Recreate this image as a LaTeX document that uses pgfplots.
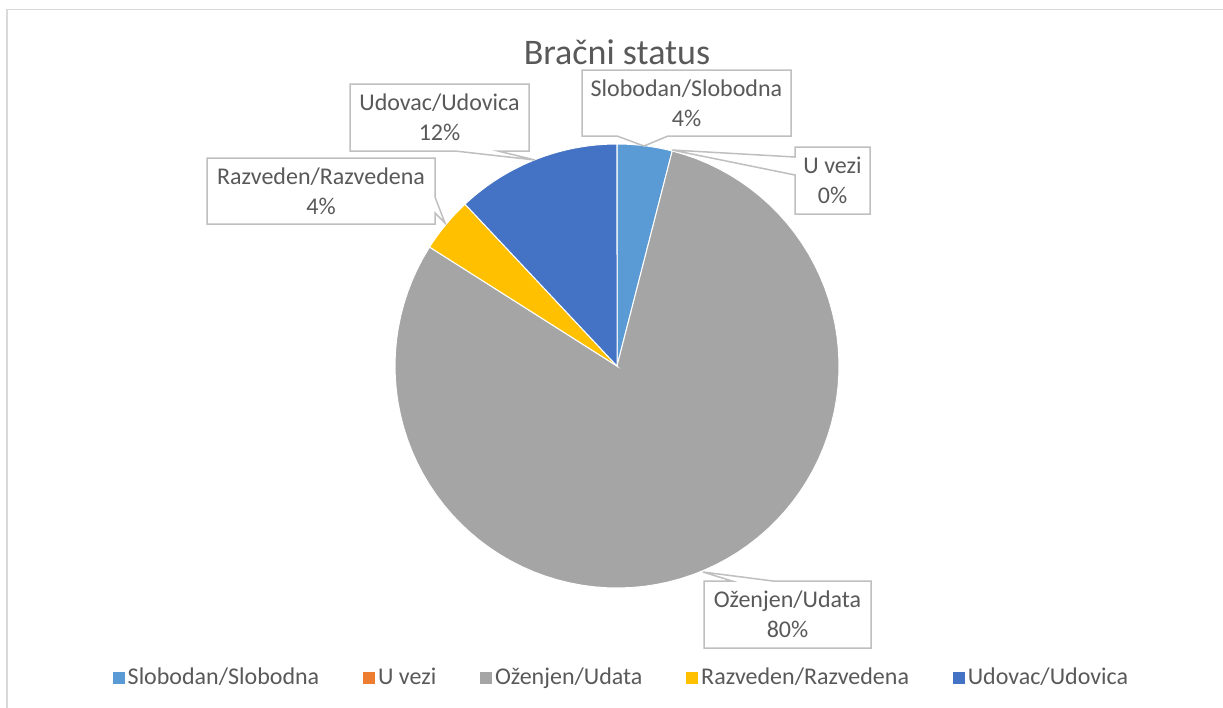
\documentclass[border=0pt]{standalone}
\usepackage{pgfplots}
\pgfplotsset{compat=1.18}
\usepackage{fontspec}
\setmainfont{Carlito}

\definecolor{cSlob}{HTML}{5B9BD5}
\definecolor{cVeza}{HTML}{ED7D31}
\definecolor{cOzen}{HTML}{A5A5A5}
\definecolor{cRazv}{HTML}{FFC000}
\definecolor{cUdov}{HTML}{4472C4}
\definecolor{txt}{HTML}{595959}
\definecolor{boxgray}{HTML}{BFBFBF}
\definecolor{framegray}{HTML}{D9D9D9}

\newcommand{\lbl}{\fontsize{12}{15}\selectfont}
% one wedge: colour, start (%), share (%); clockwise from 12 o'clock
\newcommand{\slice}[3]{%
  \addplot[fill=#1, draw=white, line width=0.5pt, forget plot,
    domain={#2*3.6}:{(#2+#3)*3.6}, samples=90, variable=\t]
    ({617+222*sin(t)}, {366-222*cos(t)}) -- (617,366) -- cycle;}

\begin{document}
\begin{tikzpicture}
\begin{axis}[
  x=0.5pt, y=0.5pt,
  xmin=0, xmax=1223, ymin=0, ymax=708,
  y dir=reverse,
  scale only axis, hide axis, clip=false,
  legend columns=5,
  legend cell align=left,
  legend image code/.code={\fill[#1] (0pt,-2.75pt) rectangle (5.5pt,2.75pt);},
  legend style={at={(0.5086,0.0424)}, anchor=center, draw=none, fill=none,
    inner sep=0pt, font=\lbl, text=txt,
    nodes={inner ysep=0pt, inner xsep=1.5pt, text=txt},
    /tikz/every even column/.append style={column sep=20.5pt}},
]
% frame of the chart area
\draw[framegray, line width=0.75pt] (7,708) -- (7,9.5) -- (1223,9.5);

% pie: Slobodan 4, U vezi 0, Ozenjen 80, Razveden 4, Udovac 12
\slice{cSlob}{0}{4}
\slice{cOzen}{4}{80}
\slice{cRazv}{84}{4}
\slice{cUdov}{88}{12}

\addlegendimage{cSlob}\addlegendentry{Slobodan/Slobodna}
\addlegendimage{cVeza}\addlegendentry{U vezi}
\addlegendimage{cOzen}\addlegendentry{Oženjen/Udata}
\addlegendimage{cRazv}\addlegendentry{Razveden/Razvedena}
\addlegendimage{cUdov}\addlegendentry{Udovac/Udovica}

% title
\node[anchor=base, font=\fontsize{18}{21}\selectfont, text=txt] at (617,64) {Bračni status};

% data callouts
\draw[boxgray, fill=white, line width=0.75pt]
  (582,70) -- (791,70) -- (791,136) -- (668,136) -- (644,146) -- (617,136) -- (582,136) -- cycle;
\node[align=center, font=\lbl, text=txt] at (686.5,103) {Slobodan/Slobodna\\4\%};

\draw[boxgray, fill=white, line width=0.75pt]
  (795,147) -- (870,147) -- (870,214) -- (795,214) -- (795,175) -- (672,150) -- (795,157) -- cycle;
\node[align=center, font=\lbl, text=txt] at (832.5,180.5) {U vezi\\0\%};

\draw[boxgray, fill=white, line width=0.75pt]
  (350,84) -- (529,84) -- (529,151) -- (498,151) -- (535,160) -- (455,151) -- (350,151) -- cycle;
\node[align=center, font=\lbl, text=txt] at (439.5,117.5) {Udovac/Udovica\\12\%};

\draw[boxgray, fill=white, line width=0.75pt]
  (207,158) -- (435,158) -- (435,197) -- (445,223) -- (435,213) -- (435,224) -- (207,224) -- cycle;
\node[align=center, font=\lbl, text=txt] at (321,191) {Razveden/Razvedena\\4\%};

\draw[boxgray, fill=white, line width=0.75pt]
  (704,581) -- (732,581) -- (703,572) -- (773,581) -- (871,581) -- (871,648) -- (704,648) -- cycle;
\node[align=center, font=\lbl, text=txt] at (787.5,614.5) {Oženjen/Udata\\80\%};
\end{axis}
\pgfresetboundingbox
\path[use as bounding box] (current axis.south west) rectangle (current axis.north east);
\end{tikzpicture}
\end{document}
